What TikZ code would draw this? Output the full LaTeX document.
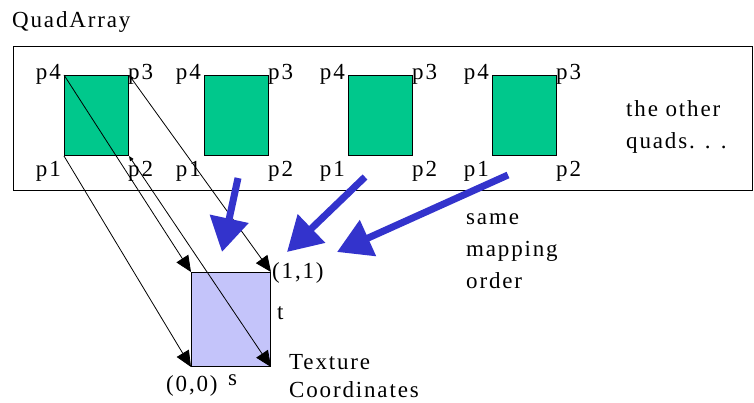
\documentclass[tikz,border=0pt]{standalone}
\usepackage{fontspec}
\setmainfont{Liberation Serif}
\newfontfamily\lblfont{Liberation Serif}[LetterSpace=8.0]
\usetikzlibrary{arrows.meta}
\definecolor{quadgreen}{RGB}{0,200,140}
\definecolor{texblue}{RGB}{196,196,250}
\definecolor{bigblue}{RGB}{51,51,204}
\tikzset{
  lbl/.style={font=\lblfont\fontsize{23}{25}\selectfont, inner sep=0pt},
  quad/.style={draw=black, line width=1pt, fill=quadgreen, minimum width=64pt, minimum height=80pt, inner sep=0pt},
  map/.style={line width=0.8pt, -{Triangle[length=16pt,width=14pt]}},
  bigarrow/.style={bigblue, line width=7pt, -{Triangle[length=34pt,width=38pt]}}
}
\begin{document}
\begin{tikzpicture}[x=1pt,y=-1pt]
\useasboundingbox (0,0) rectangle (754,403);
% outer box
\node[draw, line width=1.3pt, minimum width=739pt, minimum height=144pt, inner sep=0pt, anchor=north west] (box) at (13,46) {};
\node[lbl, anchor=base west] (title) at (12,28) {QuadArray};
% quads
\foreach \i/\x in {1/64,2/204,3/348,4/492}{
  \node[quad, anchor=north west] (q\i) at (\x,75) {};
  \node[lbl, anchor=base east] (p4\i) at (\x-3,80) {p4};
  \node[lbl, anchor=base west] (p3\i) at (\x+64,80) {p3};
  \node[lbl, anchor=base east] (p1\i) at (\x-3,177) {p1};
  \node[lbl, anchor=base west] (p2\i) at (\x+64,177) {p2};
}
\node[lbl, anchor=base west] (other1) at (626,117) {the other};
\node[lbl, anchor=base west] (other2) at (626,149) {quads. . .};
% texture square
\node[draw=black, line width=1pt, fill=texblue, minimum width=79pt, minimum height=94pt, inner sep=0pt, anchor=north west] (tex) at (191,272) {};
\node[lbl, anchor=base west] (c11) at (272,278) {(1,1)};
\node[lbl, anchor=base west] (tl) at (277,319) {t};
\node[lbl, anchor=base west] (tex1) at (289,369) {Texture};
\node[lbl, anchor=base west] (tex2) at (289,397) {Coordinates};
\node[lbl, anchor=base west] (c00) at (166,391) {(0,0)};
\node[lbl, anchor=base west] (sl) at (228,385) {s};
\node[lbl, anchor=base west] (same1) at (466,225) {same};
\node[lbl, anchor=base west] (same2) at (466,256) {mapping};
\node[lbl, anchor=base west] (same3) at (466,288) {order};
% mapping lines
\draw[map] (q1.north west) -- (tex.north west);
\draw[map, {Triangle[length=5pt,width=4pt]}-{Triangle[length=16pt,width=14pt]}] (q1.north east) -- (tex.north east);
\draw[map] (q1.south west) -- (tex.south west);
\draw[map, {Triangle[length=5pt,width=4pt]}-{Triangle[length=16pt,width=14pt]}] (q1.south east) -- (tex.south east);
% big blue arrows
\coordinate (a1s) at (238,178);
\coordinate (a1e) at (222,252);
\coordinate (a2s) at (365,177);
\coordinate (a2e) at (287,252);
\coordinate (a3s) at (508,175);
\coordinate (a3e) at (337,252);
\draw[bigarrow] (a1s) -- (a1e);
\draw[bigarrow] (a2s) -- (a2e);
\draw[bigarrow] (a3s) -- (a3e);
\end{tikzpicture}
\end{document}
